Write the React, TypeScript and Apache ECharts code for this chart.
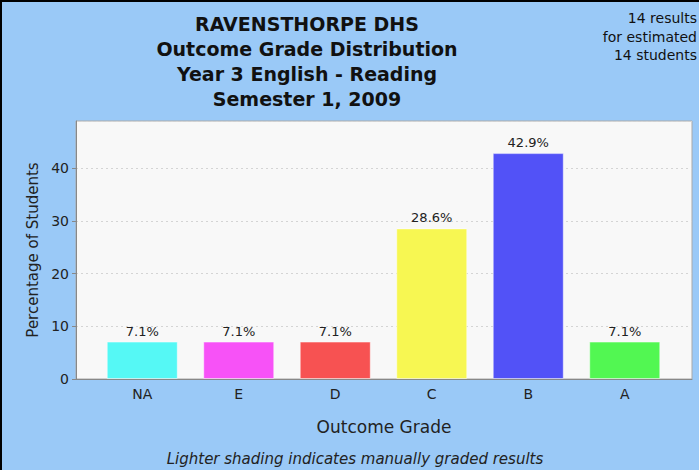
import React, { useEffect, useRef } from "react";
import * as echarts from "echarts";

const categories = ["NA", "E", "D", "C", "B", "A"];
const percentages = [7.1, 7.1, 7.1, 28.6, 42.9, 7.1];
const barColors = ["#55f8f5", "#f752f7", "#f75252", "#f7f752", "#5252f7", "#52f752"];
const titleLines = ["RAVENSTHORPE DHS", "Outcome Grade Distribution", "Year 3 English - Reading", "Semester 1, 2009"];
const noteLines = ["14 results", "for estimated", "14 students"];
const footer = "Lighter shading indicates manually graded results";

const FONT = "DejaVu Sans";

export default function App() {
  const ref = useRef<HTMLDivElement>(null);
  useEffect(() => {
    document.body.style.margin = "0";
    const chart = echarts.init(ref.current!, null, { renderer: "svg" });
    const yMax = 49;
    chart.setOption({
      animation: false,
      backgroundColor: "#9ac9f7",
      title: [
        {
          text: titleLines.join("\n"),
          left: 302,
          top: 6,
          textAlign: "center",
          textStyle: { fontFamily: FONT, fontSize: 19, fontWeight: "bold", color: "#111", lineHeight: 25 },
        },
      ],
      grid: [
        { left: 76, right: 7, top: 121, bottom: 91, show: true, backgroundColor: "#f8f8f8", borderColor: "#aaaaaa", borderWidth: 1 },
        { left: 94, right: 26, top: 121, bottom: 91 },
      ],
      xAxis: [
        {
          type: "value",
          gridIndex: 0,
          min: 0,
          max: 1,
          axisLine: { show: true, onZero: false, lineStyle: { color: "#888", width: 1 } },
          axisTick: { show: false },
          axisLabel: { show: false },
          splitLine: { show: false },
          name: "Outcome Grade",
          nameLocation: "middle",
          nameGap: 39,
          nameTextStyle: { fontFamily: FONT, fontSize: 17, color: "#222" },
        },
        {
          type: "category",
          gridIndex: 1,
          data: categories,
          axisLine: { show: false },
          axisTick: { show: false },
          axisLabel: { fontFamily: FONT, fontSize: 14, color: "#222", margin: 8 },
        },
      ],
      yAxis: [
        {
          type: "value",
          gridIndex: 0,
          min: 0,
          max: yMax,
          interval: 10,
          axisLine: { show: true, lineStyle: { color: "#888", width: 1 } },
          axisTick: { show: true, length: 4, lineStyle: { color: "#888" } },
          axisLabel: { fontFamily: FONT, fontSize: 14, color: "#222", margin: 7, showMaxLabel: false },
          splitLine: { show: true, lineStyle: { color: "#d4d4d4", type: [2, 3] } },
          name: "Percentage of Students",
          nameLocation: "middle",
          nameGap: 34,
          nameTextStyle: { fontFamily: FONT, fontSize: 15, color: "#222" },
        },
        { type: "value", gridIndex: 1, min: 0, max: yMax, show: false },
      ],
      series: [
        {
          type: "bar",
          xAxisIndex: 1,
          yAxisIndex: 1,
          barWidth: 71,
          data: percentages.map((v, i) => ({
            value: v,
            itemStyle: { color: barColors[i], borderColor: "rgba(255,255,255,0.45)", borderWidth: 1 },
          })),
          label: {
            show: true,
            position: "top",
            distance: 4,
            formatter: (p: any) => p.value.toFixed(1) + "%",
            fontFamily: FONT,
            fontSize: 13,
            color: "#222",
          },
        },
      ],
      graphic: [
        { type: "rect", shape: { x: 0, y: 0, width: 2, height: 470 }, style: { fill: "#000" } },
        { type: "rect", shape: { x: 0, y: 0, width: 699, height: 2 }, style: { fill: "#000" } },
        ...noteLines.map((t, i) => ({
          type: "text",
          x: 697,
          y: 18 + i * 18.5,
          style: {
            text: t,
            fontFamily: FONT,
            fontSize: 14,
            fill: "#111",
            align: "right",
            verticalAlign: "middle",
          },
        })),
        {
          type: "text",
          x: 355,
          y: 459,
          style: {
            text: footer,
            fontFamily: FONT,
            fontSize: 15,
            fontStyle: "italic",
            fill: "#222",
            align: "center",
            verticalAlign: "middle",
          },
        },
      ],
    });
    return () => chart.dispose();
  }, []);
  return <div ref={ref} style={{ width: 699, height: 470 }} />;
}
